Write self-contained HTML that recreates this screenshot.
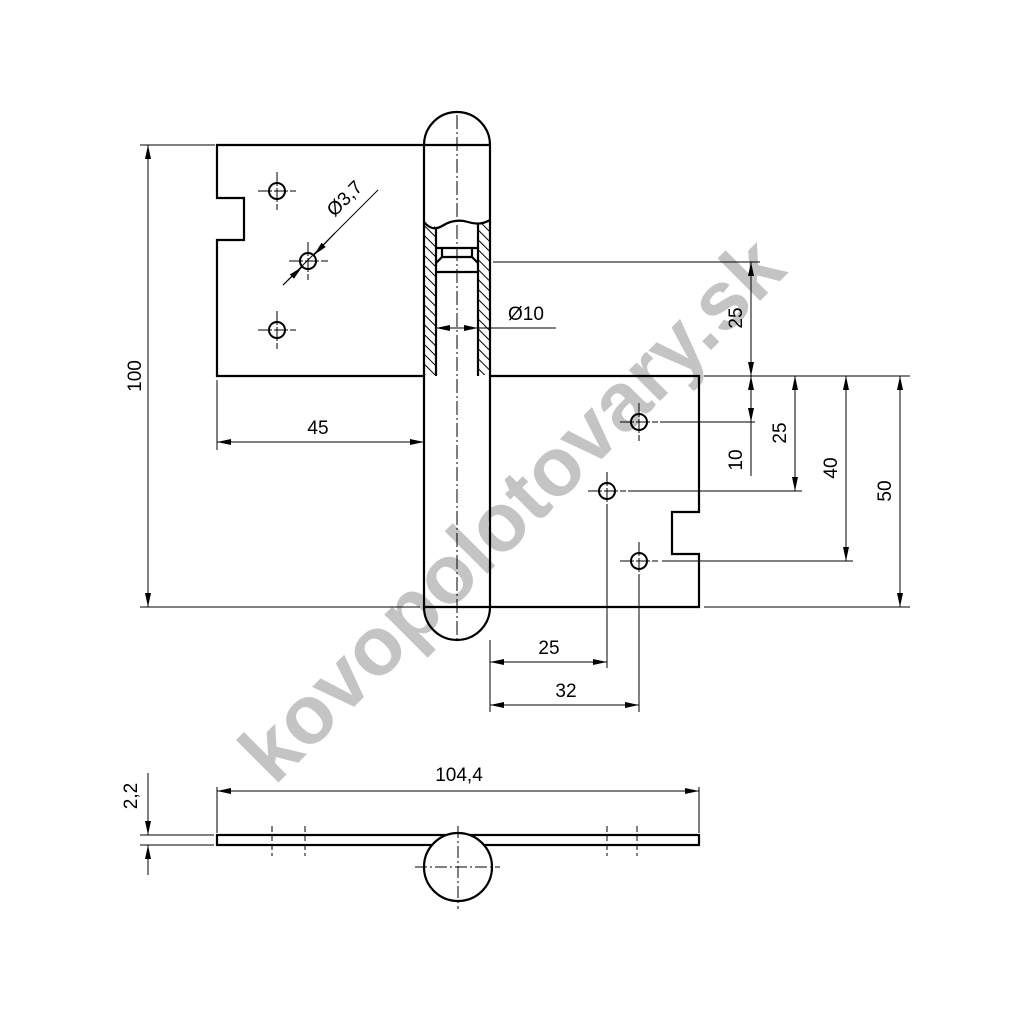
<!DOCTYPE html>
<html><head><meta charset="utf-8"><style>
html,body{margin:0;padding:0;background:#fff;}
svg{display:block;}
text{font-family:"Liberation Sans",Arial,sans-serif;fill:#000;}
</style></head><body>
<svg width="1024" height="1024" viewBox="0 0 1024 1024" xmlns="http://www.w3.org/2000/svg">
<defs>
<marker id="a" viewBox="0 0 14 6" refX="14" refY="3" markerWidth="14" markerHeight="6" markerUnits="userSpaceOnUse" orient="auto-start-reverse"><path d="M0,0 L14,3 L0,6 z" fill="#000"/></marker>
<pattern id="h" width="7" height="7" patternUnits="userSpaceOnUse" patternTransform="rotate(-45)"><line x1="0" y1="0" x2="0" y2="7" stroke="#000" stroke-width="2"/></pattern>
</defs>
<rect width="1024" height="1024" fill="#fff"/>

<text x="0" y="0" transform="translate(516,514) rotate(-45)" text-anchor="middle" dominant-baseline="middle" font-size="83" font-weight="bold" style="fill:#c4c4c4">kovopolotovary.sk</text>

<g fill="none" stroke="#000" stroke-width="2.2">
<path d="M424,145 H217 V198 H244 V240 H217 V376 H424"/>
<path d="M490,376 H699 V512 H672 V554 H699 V607 H424"/>
<path d="M424,376 V145 A33,33 0 0 1 490,145 V376"/>
<path d="M424,376 V607 A33,33 0 0 0 490,607 V376"/>
<line x1="424" y1="145" x2="490" y2="145"/>
<path d="M424,222 Q432,232 442,226 Q455,218 468,222 Q480,226 490,220"/>
<line x1="436" y1="228" x2="436" y2="376"/>
<line x1="478" y1="223" x2="478" y2="376"/>
<line x1="436" y1="248" x2="478" y2="248"/>
<path d="M442,248 V257 L436,263 M472,248 V257 L478,263"/>
<line x1="442" y1="257" x2="472" y2="257"/>
<line x1="436" y1="272" x2="478" y2="272"/>
</g>
<rect x="425" y="226" width="10" height="149" fill="url(#h)"/>
<rect x="479" y="224" width="10" height="151" fill="url(#h)"/>
<line x1="457" y1="115" x2="457" y2="640" stroke="#000" stroke-width="1" stroke-dasharray="14,3,2,3"/>

<g fill="none" stroke="#000">
<g stroke-width="2"><circle cx="277" cy="191" r="8"/><circle cx="308" cy="261" r="8"/><circle cx="277" cy="330" r="8"/>
<circle cx="639" cy="422" r="8"/><circle cx="607" cy="491" r="8"/><circle cx="639" cy="561" r="8"/></g>
<g stroke-width="1" stroke-dasharray="10,2,2,2">
<path d="M258,191 H296 M277,172 V210 M289,261 H328 M308,242 V280 M258,330 H296 M277,311 V349"/>
<path d="M620,422 H658 M639,403 V441 M588,491 H626 M607,472 V510 M620,561 H658 M639,542 V580"/>
</g>
</g>

<g stroke="#000" stroke-width="1" fill="none">
<line x1="140" y1="145" x2="215" y2="145"/>
<line x1="140" y1="607" x2="420" y2="607"/>
<line x1="148" y1="145" x2="148" y2="607" marker-start="url(#a)" marker-end="url(#a)"/>
<line x1="217" y1="380" x2="217" y2="450"/>
<line x1="217" y1="442" x2="424" y2="442" marker-start="url(#a)" marker-end="url(#a)"/>
<line x1="436" y1="328" x2="478" y2="328" marker-start="url(#a)" marker-end="url(#a)"/>
<line x1="478" y1="328" x2="556" y2="328"/>
<line x1="283" y1="285" x2="378" y2="190"/>
<line x1="283" y1="285" x2="302" y2="267" marker-end="url(#a)"/>
<line x1="335" y1="233" x2="314" y2="255" marker-end="url(#a)"/>
<line x1="493" y1="262" x2="760" y2="262"/>
<line x1="704" y1="376" x2="910" y2="376"/>
<line x1="660" y1="422" x2="755" y2="422"/>
<line x1="628" y1="491" x2="802" y2="491"/>
<line x1="662" y1="561" x2="853" y2="561"/>
<line x1="704" y1="607" x2="910" y2="607"/>
<line x1="751" y1="262" x2="751" y2="376" marker-start="url(#a)" marker-end="url(#a)"/>
<line x1="751" y1="376" x2="751" y2="422" marker-start="url(#a)" marker-end="url(#a)"/>
<line x1="751" y1="422" x2="751" y2="476"/>
<line x1="795" y1="376" x2="795" y2="491" marker-start="url(#a)" marker-end="url(#a)"/>
<line x1="846" y1="376" x2="846" y2="561" marker-start="url(#a)" marker-end="url(#a)"/>
<line x1="900" y1="376" x2="900" y2="607" marker-start="url(#a)" marker-end="url(#a)"/>
<line x1="490" y1="640" x2="490" y2="712"/>
<line x1="607" y1="510" x2="607" y2="668"/>
<line x1="639" y1="580" x2="639" y2="712"/>
<line x1="490" y1="662" x2="607" y2="662" marker-start="url(#a)" marker-end="url(#a)"/>
<line x1="490" y1="705" x2="639" y2="705" marker-start="url(#a)" marker-end="url(#a)"/>
<line x1="217" y1="787" x2="217" y2="833"/>
<line x1="699" y1="787" x2="699" y2="833"/>
<line x1="217" y1="791" x2="699" y2="791" marker-start="url(#a)" marker-end="url(#a)"/>
<line x1="140" y1="835" x2="214" y2="835"/>
<line x1="140" y1="845" x2="214" y2="845"/>
<line x1="148" y1="773" x2="148" y2="835" marker-end="url(#a)"/>
<line x1="148" y1="875" x2="148" y2="845" marker-end="url(#a)"/>
</g>

<g fill="none" stroke="#000">
<rect x="217" y="835" width="482" height="10" stroke-width="2.2" fill="#fff"/>
<circle cx="458" cy="867" r="34" stroke-width="2.2" fill="#fff"/>
<path d="M415,867 H500 M458,826 V909" stroke-width="1" stroke-dasharray="12,3,2,3"/>
</g>
<g fill="none" stroke="#000" stroke-width="1" stroke-dasharray="6,3">
<path d="M272,826 V856 M305,826 V856 M607,826 V856 M637,826 V856"/>
</g>

<g font-size="19">
<text x="0" y="0" transform="translate(141,376) rotate(-90)" text-anchor="middle">100</text>
<text x="318" y="434" text-anchor="middle">45</text>
<text x="526" y="320" text-anchor="middle">Ø10</text>
<text x="0" y="0" transform="translate(349,203) rotate(-45)" text-anchor="middle">Ø3,7</text>
<text x="0" y="0" transform="translate(742,318) rotate(-90)" text-anchor="middle">25</text>
<text x="0" y="0" transform="translate(742,460) rotate(-90)" text-anchor="middle">10</text>
<text x="0" y="0" transform="translate(786,433) rotate(-90)" text-anchor="middle">25</text>
<text x="0" y="0" transform="translate(837,468) rotate(-90)" text-anchor="middle">40</text>
<text x="0" y="0" transform="translate(891,491) rotate(-90)" text-anchor="middle">50</text>
<text x="549" y="654" text-anchor="middle">25</text>
<text x="566" y="697" text-anchor="middle">32</text>
<text x="459" y="781" text-anchor="middle">104,4</text>
<text x="0" y="0" transform="translate(137,796) rotate(-90)" text-anchor="middle">2,2</text>
</g>
</svg>
</body></html>
